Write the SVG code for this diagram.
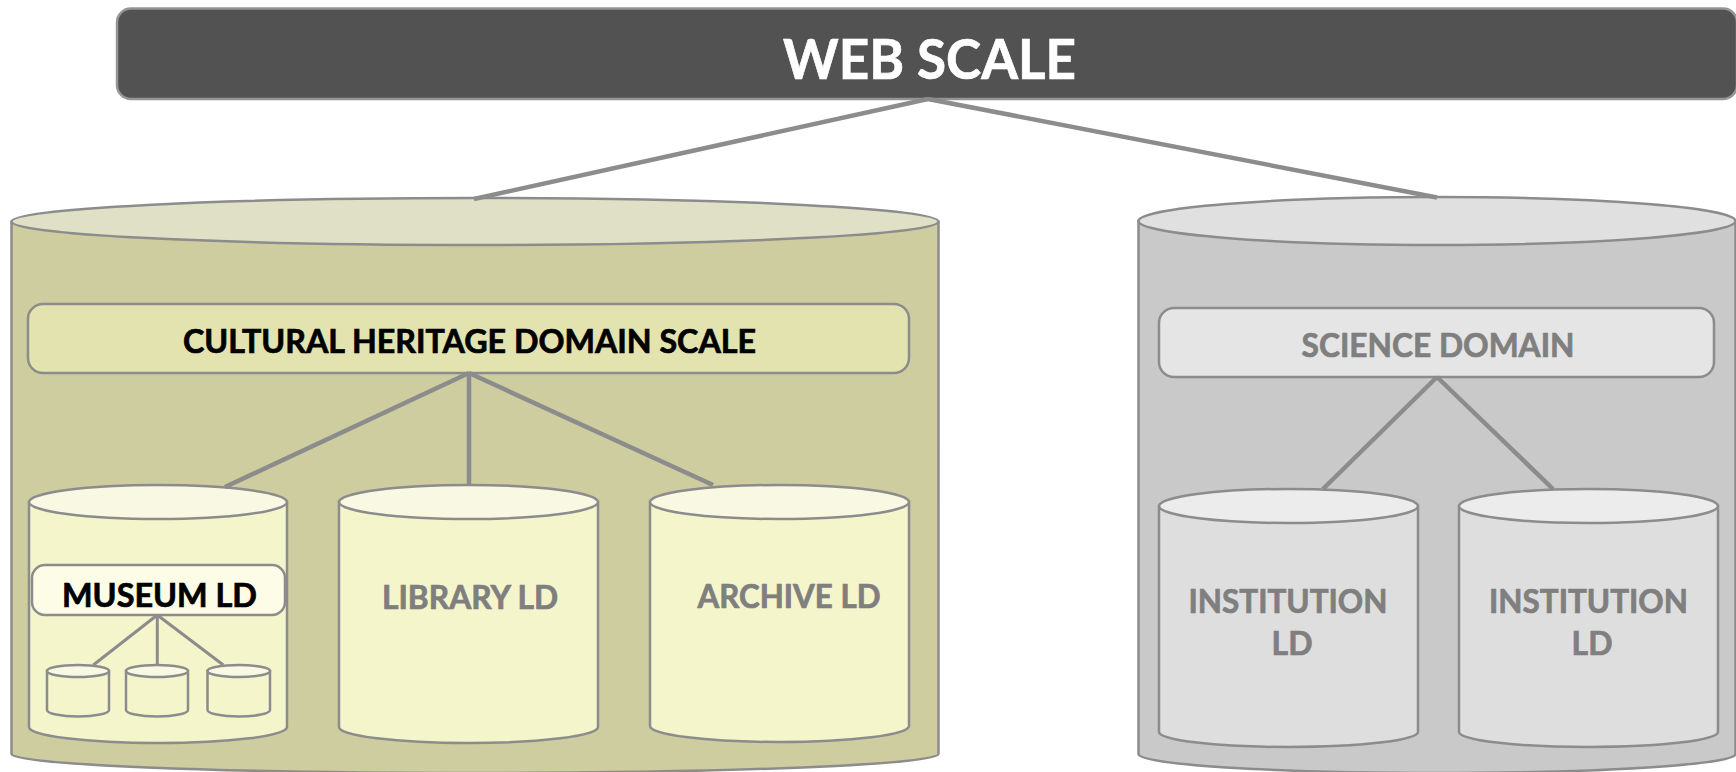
<svg xmlns="http://www.w3.org/2000/svg" width="1736" height="772" viewBox="0 0 1736 772">
<style>
.o{stroke:#8c8c8c;stroke-width:2.5}
.cn line{stroke:#8c8c8c;stroke-width:4.5}
.cns line{stroke:#8c8c8c;stroke-width:3}
.t{font-family:Lato,"Open Sans","Liberation Sans",sans-serif;font-weight:bold;text-anchor:middle;stroke-width:0.7px}
.g{fill:#7f7f7f;stroke:#7f7f7f}
.k{fill:#000;stroke:#000}
.w{fill:#fff;stroke:#fff}
</style>
<rect width="1736" height="772" fill="#fff"/>
<g id="web-scale">
<rect x="117" y="8.5" width="1620" height="90.5" rx="14" fill="#525252" stroke="#959595" stroke-width="2.5"/>
<text class="t w" x="929.5" y="79" font-size="56" textLength="293" lengthAdjust="spacingAndGlyphs">WEB SCALE</text>
</g>
<g id="cultural-heritage-cylinder">
<path class="o" fill="#cdcd9f" d="M11.5,222 V754 A463.5,19 0 0 0 938.5,754 V222 Z"/>
<ellipse class="o" cx="475" cy="221.5" rx="463.5" ry="23.5" fill="#e0e0c7"/>
</g>
<g id="science-cylinder">
<path class="o" fill="#c9c9c9" d="M1138.5,221 V754 A298.5,19 0 0 0 1735.5,754 V221 Z"/>
<ellipse class="o" cx="1437" cy="221" rx="298.5" ry="24" fill="#e0e0e0"/>
</g>
<g id="cultural-heritage-domain">
<rect class="o" x="28" y="304" width="881" height="69" rx="15" fill="#e3e3b0"/>
<text class="t k" x="469.5" y="353" font-size="31.5" textLength="573" lengthAdjust="spacingAndGlyphs">CULTURAL HERITAGE DOMAIN SCALE</text>
</g>
<g id="science-domain">
<rect class="o" x="1159" y="308" width="555" height="69" rx="15" fill="#e5e5e5"/>
<text class="t g" x="1438" y="357" font-size="32" textLength="273" lengthAdjust="spacingAndGlyphs">SCIENCE DOMAIN</text>
</g>
<g id="museum-ld">
<path class="o" fill="#f5f5cc" d="M29,502 V727 A129,16 0 0 0 287,727 V502 Z"/>
<ellipse class="o" cx="158" cy="502" rx="129" ry="17" fill="#f9f9e3"/>
<rect class="o" x="32" y="565" width="253" height="50" rx="13" fill="#fdfde7"/>
<text class="t k" x="159.5" y="607" font-size="32" textLength="195" lengthAdjust="spacingAndGlyphs">MUSEUM LD</text>
</g>
<g id="museum-db-1">
<path class="o" fill="#f5f5cc" d="M47,671 V710 A31,6.5 0 0 0 109,710 V671 Z"/>
<ellipse class="o" cx="78" cy="671" rx="31" ry="6" fill="#f9f9e3"/>
</g>
<g id="museum-db-2">
<path class="o" fill="#f5f5cc" d="M126,671 V710 A31,6.5 0 0 0 188,710 V671 Z"/>
<ellipse class="o" cx="157" cy="671" rx="31" ry="6" fill="#f9f9e3"/>
</g>
<g id="museum-db-3">
<path class="o" fill="#f5f5cc" d="M207.5,671 V710 A31.25,6.5 0 0 0 270,710 V671 Z"/>
<ellipse class="o" cx="238.75" cy="671" rx="31.25" ry="6" fill="#f9f9e3"/>
</g>
<g id="library-ld">
<path class="o" fill="#f5f5cc" d="M339,502 V727 A129.5,16 0 0 0 598,727 V502 Z"/>
<ellipse class="o" cx="468.5" cy="502" rx="129.5" ry="17" fill="#f9f9e3"/>
<text class="t g" x="470" y="609" font-size="31.5" textLength="176" lengthAdjust="spacingAndGlyphs">LIBRARY LD</text>
</g>
<g id="archive-ld">
<path class="o" fill="#f5f5cc" d="M650,502 V726 A129.5,16 0 0 0 909,726 V502 Z"/>
<ellipse class="o" cx="779.5" cy="502" rx="129.5" ry="17" fill="#f9f9e3"/>
<text class="t g" x="789" y="608" font-size="31.5" textLength="183" lengthAdjust="spacingAndGlyphs">ARCHIVE LD</text>
</g>
<g id="institution-ld-1">
<path class="o" fill="#dedede" d="M1159,506 V732 A129.5,15 0 0 0 1418,732 V506 Z"/>
<ellipse class="o" cx="1288.5" cy="506" rx="129.5" ry="17" fill="#ececec"/>
<text class="t g" x="1288" y="613" font-size="32" textLength="199" lengthAdjust="spacingAndGlyphs">INSTITUTION</text>
<text class="t g" x="1292" y="655" font-size="32">LD</text>
</g>
<g id="institution-ld-2">
<path class="o" fill="#dedede" d="M1459,506 V732 A129.5,15 0 0 0 1718,732 V506 Z"/>
<ellipse class="o" cx="1588.5" cy="506" rx="129.5" ry="17" fill="#ececec"/>
<text class="t g" x="1588.5" y="613" font-size="32" textLength="199" lengthAdjust="spacingAndGlyphs">INSTITUTION</text>
<text class="t g" x="1592" y="655" font-size="32">LD</text>
</g>
<g id="connectors">
<g class="cn">
<line x1="928" y1="99" x2="474" y2="199"/>
<line x1="928" y1="99" x2="1437" y2="197.5"/>
<line x1="469" y1="373" x2="225" y2="487"/>
<line x1="469" y1="373" x2="469" y2="485"/>
<line x1="469" y1="373" x2="713" y2="485"/>
<line x1="1437" y1="377" x2="1323" y2="489"/>
<line x1="1437" y1="377" x2="1553" y2="489"/>
</g>
<g class="cns">
<line x1="157.3" y1="615" x2="93.3" y2="665"/>
<line x1="157.3" y1="615" x2="157.3" y2="665"/>
<line x1="157.3" y1="615" x2="223.3" y2="665"/>
</g>
</g>
</svg>
